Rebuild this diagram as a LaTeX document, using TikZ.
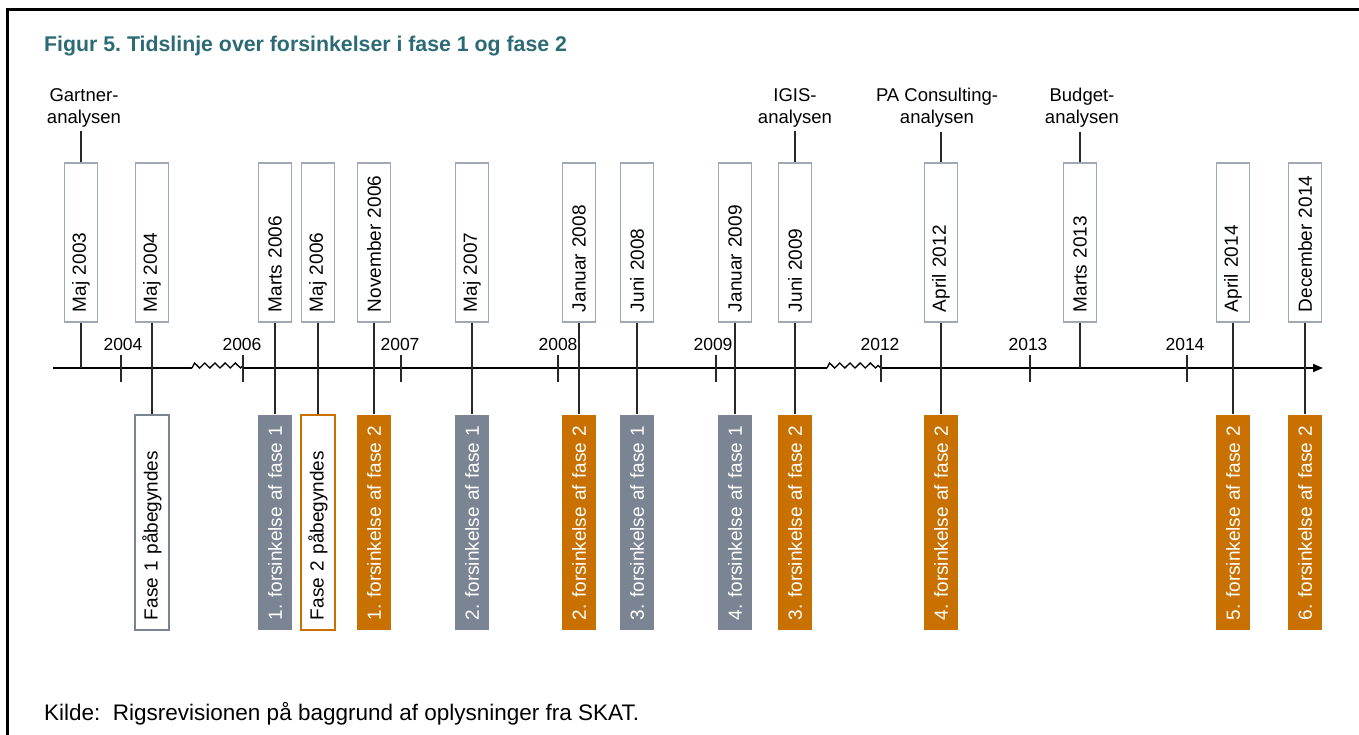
\documentclass[tikz,border=0pt]{standalone}
\usepackage{fontspec}
\setmainfont{Liberation Sans}
\usetikzlibrary{decorations.pathmorphing,arrows.meta,calc}

\definecolor{fasegray}{RGB}{123,132,146}
\definecolor{faseorange}{RGB}{200,113,0}
\definecolor{boxline}{RGB}{160,168,182}
\definecolor{titleteal}{RGB}{44,106,118}
\definecolor{conline}{RGB}{40,40,40}

\newcommand\datefont{\fontsize{19}{22}\selectfont}
\newcommand\yearfont{\fontsize{17.5}{20}\selectfont}
\newcommand\toplabelfont{\fontsize{18.5}{22}\selectfont}

\begin{document}
\frenchspacing
\begin{tikzpicture}[x=1pt,y=-1pt,
  datebox/.style={draw=boxline,line width=1.2pt,fill=white,rotate=90,minimum height=33pt,
    text width=139pt,inner xsep=10pt,inner ysep=0pt,align=left,font=\datefont},
  fasebox/.style={datebox,minimum height=34pt,text width=195pt},
  grayfase/.style={fasebox,draw=none,fill=fasegray,text=white},
  orangefase/.style={fasebox,draw=none,fill=faseorange,text=white},
  toplabel/.style={align=center,inner sep=0pt,outer ysep=4pt,font=\toplabelfont},
  year/.style={anchor=base,inner sep=0pt,font=\yearfont},
  con/.style={draw=conline,line width=1.3pt},
  brk/.style={decorate,decoration={zigzag,segment length=10.2pt,amplitude=2.5pt,raise=2.5pt}}]

\useasboundingbox (0,0) rectangle (1359,735);

% Frame and title
\draw[line width=3pt] (7,735) -- (7,10) -- (1359,10);
\node (title) at (44,52) [anchor=base west,inner sep=0pt,text=titleteal,font=\bfseries\fontsize{21.3}{25}\selectfont]
{Figur 5. Tidslinje over forsinkelser i fase 1 og fase 2};

% Axis
\coordinate (axstart) at (53,368);
\coordinate (breakaa) at (192,368);
\coordinate (breakab) at (243,368);
\coordinate (breakba) at (827,368);
\coordinate (breakbb) at (881,368);
\coordinate (axend) at (1323,368);
\draw[line width=1.5pt] (axstart) -- (breakaa);
\draw[line width=1.3pt,brk] (breakaa) -- (breakab);
\draw[line width=1.5pt] (breakab) -- (breakba);
\draw[line width=1.3pt,brk] (breakba) -- (breakbb);
\draw[line width=1.5pt,-{Triangle[length=10pt,width=8pt]}] (breakbb) -- (axend);

% Years
\draw[con] (121,355) -- (121,382);
\draw[con] (243,355) -- (243,382);
\draw[con] (401,355) -- (401,382);
\draw[con] (558,355) -- (558,382);
\draw[con] (716,355) -- (716,382);
\draw[con] (881,355) -- (881,382);
\draw[con] (1030,355) -- (1030,382);
\draw[con] (1187,355) -- (1187,382);
\node (y2004) at (123,350) [year] {2004};
\node (y2006) at (242,350) [year] {2006};
\node (y2007) at (400,350) [year] {2007};
\node (y2008) at (558,350) [year] {2008};
\node (y2009) at (713,350) [year] {2009};
\node (y2012) at (880,350) [year] {2012};
\node (y2013) at (1028,350) [year] {2013};
\node (y2014) at (1185,350) [year] {2014};

% Analyses above the axis
\node (gartner) at (84,108) [toplabel] {Gartner-\\analysen};
\node (igis) at (795,108) [toplabel] {IGIS-\\analysen};
\node (pacons) at (937,108) [toplabel] {PA Consulting-\\analysen};
\node (budget) at (1082,108) [toplabel] {Budget-\\analysen};

% Dates
\node (maj03) at (81,242.5) [datebox] {Maj 2003};
\node (maj04) at (152,242.5) [datebox] {Maj 2004};
\node (mar06) at (275,242.5) [datebox] {Marts 2006};
\node (maj06) at (318,242.5) [datebox] {Maj 2006};
\node (nov06) at (374,242.5) [datebox] {November 2006};
\node (maj07) at (472,242.5) [datebox] {Maj 2007};
\node (jan08) at (579,242.5) [datebox] {Januar 2008};
\node (jun08) at (637,242.5) [datebox] {Juni 2008};
\node (jan09) at (735,242.5) [datebox] {Januar 2009};
\node (jun09) at (795,242.5) [datebox] {Juni 2009};
\node (apr12) at (941,242.5) [datebox] {April 2012};
\node (mar13) at (1080,242.5) [datebox] {Marts 2013};
\node (apr14) at (1233,242.5) [datebox] {April 2014};
\node (dec14) at (1305,242.5) [datebox] {December 2014};

% Phases and delays below the axis
\node (fase1) at (152,522.5) [fasebox,draw=fasegray,line width=2pt] {Fase 1 påbegyndes};
\node (fone1) at (275,522.5) [grayfase] {1. forsinkelse af fase 1};
\node (fase2) at (318,522.5) [fasebox,draw=faseorange,line width=2pt] {Fase 2 påbegyndes};
\node (ftwo1) at (374,522.5) [orangefase] {1. forsinkelse af fase 2};
\node (fone2) at (472,522.5) [grayfase] {2. forsinkelse af fase 1};
\node (ftwo2) at (579,522.5) [orangefase] {2. forsinkelse af fase 2};
\node (fone3) at (637,522.5) [grayfase] {3. forsinkelse af fase 1};
\node (fone4) at (735,522.5) [grayfase] {4. forsinkelse af fase 1};
\node (ftwo3) at (795,522.5) [orangefase] {3. forsinkelse af fase 2};
\node (ftwo4) at (941,522.5) [orangefase] {4. forsinkelse af fase 2};
\node (ftwo5) at (1233,522.5) [orangefase] {5. forsinkelse af fase 2};
\node (ftwo6) at (1305,522.5) [orangefase] {6. forsinkelse af fase 2};

% Connectors
\draw[con] (gartner.south -| maj03.east) -- (maj03.east);
\draw[con] (igis.south -| jun09.east) -- (jun09.east);
\draw[con] (pacons.south -| apr12.east) -- (apr12.east);
\draw[con] (budget.south -| mar13.east) -- (mar13.east);
\draw[con] (maj03.west) -- (maj03.west |- axstart);
\draw[con] (mar13.west) -- (mar13.west |- axstart);
\draw[con] (maj04.west) -- (fase1.east);
\draw[con] (mar06.west) -- (fone1.east);
\draw[con] (maj06.west) -- (fase2.east);
\draw[con] (nov06.west) -- (ftwo1.east);
\draw[con] (maj07.west) -- (fone2.east);
\draw[con] (jan08.west) -- (ftwo2.east);
\draw[con] (jun08.west) -- (fone3.east);
\draw[con] (jan09.west) -- (fone4.east);
\draw[con] (jun09.west) -- (ftwo3.east);
\draw[con] (apr12.west) -- (ftwo4.east);
\draw[con] (apr14.west) -- (ftwo5.east);
\draw[con] (dec14.west) -- (ftwo6.east);

% Source
\node (kilde) at (44,720) [anchor=base west,inner sep=0pt,font=\fontsize{22.5}{26}\selectfont]
{Kilde:\ \ Rigsrevisionen på baggrund af oplysninger fra SKAT.};

\end{tikzpicture}
\end{document}
